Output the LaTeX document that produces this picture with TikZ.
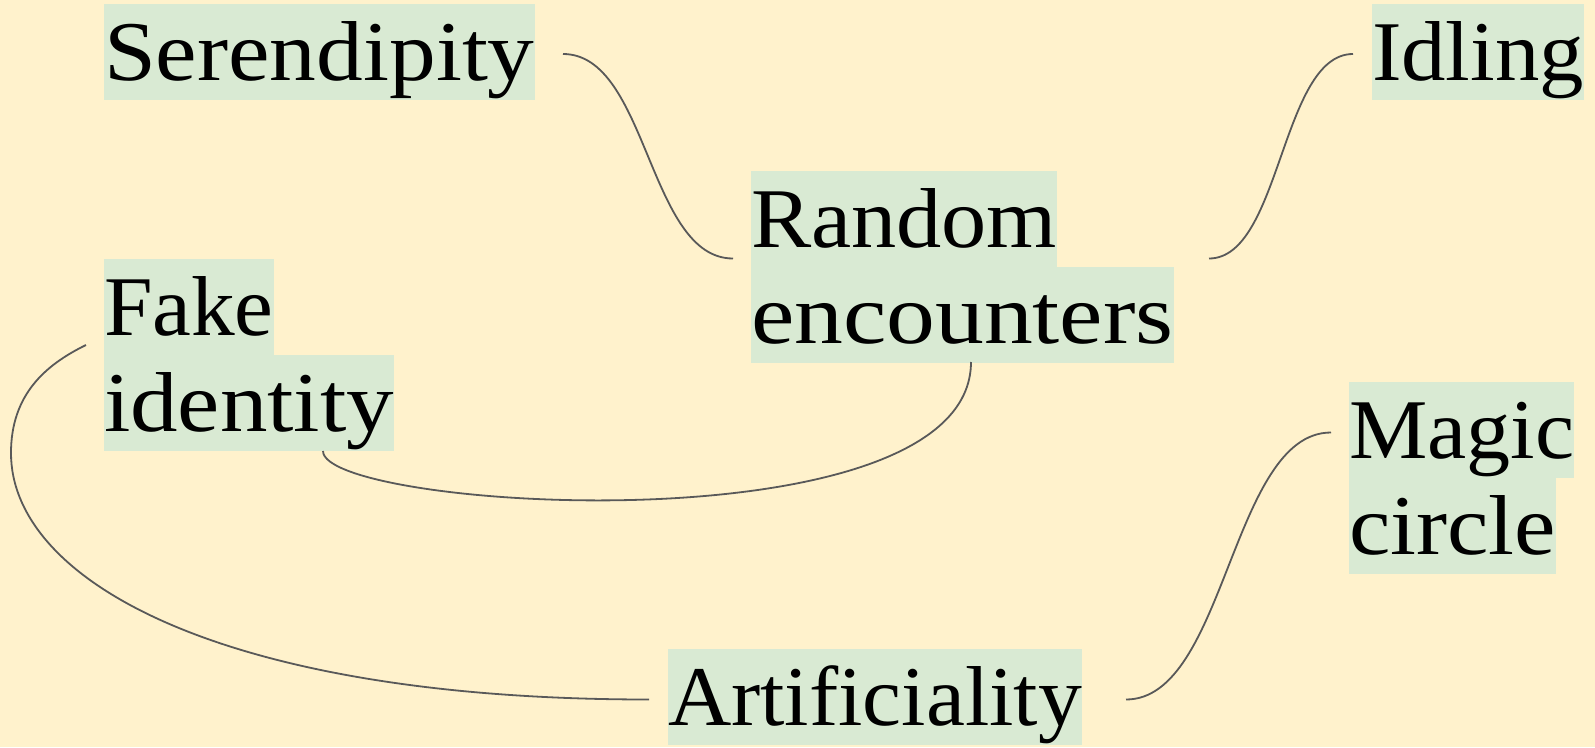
\documentclass[tikz,border=0pt]{standalone}
\usepackage{fontspec}
\usepackage{graphicx}
\setmainfont[FakeStretch=1.07]{Liberation Serif}
\usetikzlibrary{calc}
\definecolor{bgcream}{HTML}{FFF2CC}
\definecolor{hlgreen}{HTML}{D9EAD3}
\definecolor{linkgray}{HTML}{595959}
\newcommand\hlbox[2][1]{{\setlength{\fboxsep}{0pt}\colorbox{hlgreen}{\rule[-20pt]{0pt}{96pt}\scalebox{#1}[1]{#2}}}}
\begin{document}
\begin{tikzpicture}[x=1pt,y=-1pt,
  topic/.style={anchor=north west, inner sep=0pt, outer sep=0pt, align=left,
    font=\fontsize{85}{96}\selectfont},
  link/.style={draw=linkgray, line width=1.8pt}]
\fill[bgcream] (0,0) rectangle (1595,747);
\useasboundingbox (0,0) rectangle (1595,747);
\node[topic] (ser) at (104,4) {\hlbox[1.027]{Serendipity}};
\node[topic] (idl) at (1372,4) {\hlbox[0.976]{Idling}};
\node[topic] (ran) at (751,171) {\hlbox[0.993]{Random}\\\hlbox[1.073]{encounters}};
\node[topic] (fak) at (104,259) {\hlbox[0.96]{Fake}\\\hlbox[1.044]{identity}};
\node[topic] (mag) at (1349,382) {\hlbox[0.969]{Magic}\\\hlbox[1.025]{circle}};
\node[topic] (art) at (668,649) {\hlbox[0.964]{Artificiality}};
\draw[link] ($(ser.west)+(459,2)$) .. controls +(85,0) and +(-85,0) .. ($(ran.west)+(-18,-8.5)$);
\draw[link] ($(ran.west)+(458,-8.5)$) .. controls +(72,0) and +(-72,0) .. ($(idl.west)+(-19,2)$);
\draw[link] ($(ran.south west)+(220,-1)$) .. controls +(0,189) and +(0,59) .. ($(fak.south west)+(219,0)$);
\draw[link] ($(fak.west)+(-18,-10)$) .. controls +(-41,20) and +(0,-58) .. ++(-75,108)
  .. controls +(0,127) and +(-429,0) .. ($(art.west)+(-19,2.5)$);
\draw[link] ($(art.west)+(458,2.5)$) .. controls +(100,0) and +(-100,0) .. ($(mag.west)+(-18,-45.5)$);
\end{tikzpicture}
\end{document}
